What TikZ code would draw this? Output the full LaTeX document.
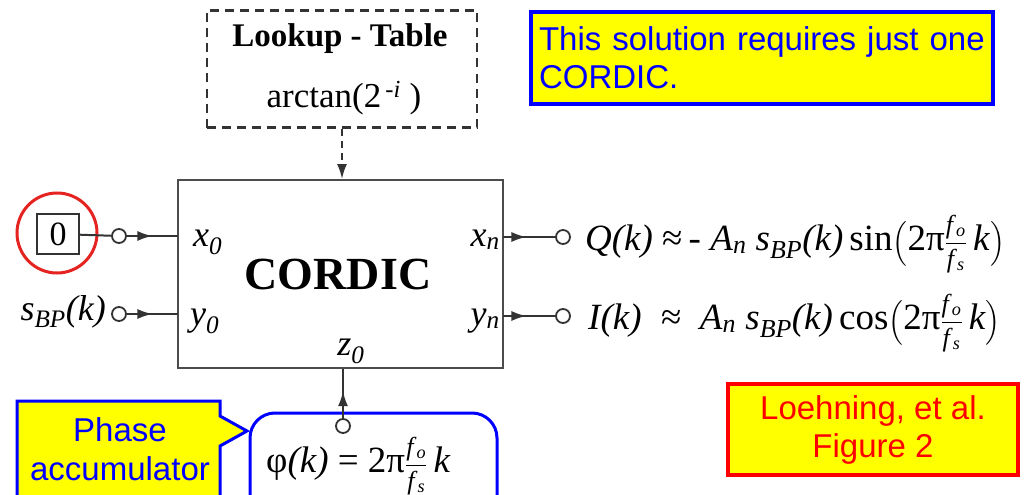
\documentclass[tikz,border=0pt]{standalone}
\usepackage{amsmath}
\usepackage{fontspec}
\setmainfont{Liberation Serif}
\newfontfamily\calloutfont{Liberation Sans}
\usepackage{xcolor}
\definecolor{noteYellow}{HTML}{FFFF00}
\definecolor{noteBlue}{HTML}{0000FF}
\definecolor{noteRed}{HTML}{FF0000}
\definecolor{ringRed}{HTML}{E52421}
\usetikzlibrary{positioning,arrows.meta,decorations.markings}
\newcommand{\sbp}{\textit{s}\textsubscript{\textit{BP}}}
\newcommand{\fofs}{$\dfrac{\text{\fontsize{26}{26}\selectfont\textit{f}\textsubscript{\textit{o}}}}{\text{\fontsize{26}{26}\selectfont\textit{f}\textsubscript{\textit{s}}}}$}
\tikzset{%
  cordicBlock/.style={
    rectangle, draw=black!70, line width=2pt, fill=white,
    minimum width=325pt, minimum height=188pt},
  lutBlock/.style={
    rectangle, draw=black!80, dash pattern=on 9pt off 6pt, line width=2.4pt,
    minimum width=270pt, minimum height=117pt},
  terminal/.style={circle, draw=black!80, fill=white, line width=1.8pt,
    minimum size=14pt, inner sep=0pt},
  portLabel/.style={font=\fontsize{36}{40}\selectfont, inner sep=0pt},
  eqText/.style={font=\fontsize{37}{40}\selectfont, inner sep=0pt, anchor=base west},
  noteBox/.style={rectangle, fill=noteYellow, line width=4pt, inner sep=0pt,
    font=\calloutfont\fontsize{33}{38}\selectfont},
  wire/.style={line width=2pt, black!80},
  tipHead/.tip={Latex[length=15pt,width=10pt]},
  midArrow/.style={postaction={decorate}, decoration={markings,
    mark=at position #1 with {\arrow{tipHead}}}},
  midArrow/.default=0.5,
}

\begin{document}
\begin{tikzpicture}[x=1pt,y=-1pt]
  \useasboundingbox (0,0) rectangle (1033,495);
  \fill[white] (0,0) rectangle (1033,495);
  \clip (0,0) rectangle (1033,495);

  % lookup table and CORDIC block
  \node[lutBlock] (lut) at (342,69) {};
  \node[anchor=base, font=\fontsize{33}{36}\selectfont\bfseries, inner sep=0pt] (luttitle) at (340,47) {Lookup - Table};
  \node[anchor=base, font=\fontsize{35}{36}\selectfont, inner sep=0pt] (lutfunc) at (344,107) {arctan(2\textsuperscript{\,-\textit{i}} )};
  \node[cordicBlock] (cordic) at (340.5,274) {};
  \node[font=\fontsize{46}{50}\selectfont\bfseries, inner sep=0pt] (cordictitle) at (338,274) {CORDIC};

  % port labels
  \node[portLabel, anchor=base west] (lx0) at (193,246) {\textit{x}\textsubscript{\textit{0}}};
  \node[portLabel, anchor=base west] (ly0) at (190,325) {\textit{y}\textsubscript{\textit{0}}};
  \node[portLabel, anchor=base east] (lxn) at (500,246) {\textit{x}\textsubscript{\textit{n}}};
  \node[portLabel, anchor=base east] (lyn) at (500,325) {\textit{y}\textsubscript{\textit{n}}};
  \node[portLabel, anchor=base] (lz0) at (351,355) {\textit{z}\textsubscript{\textit{0}}};
  \coordinate (px0) at (178,236);
  \coordinate (py0) at (178,314);
  \coordinate (pxn) at (503,237);
  \coordinate (pyn) at (503,316);

  % inputs
  \node[circle, draw=ringRed, line width=3pt, minimum size=80pt] (ring) at (57,233) {};
  \node[rectangle, draw=black!80, line width=1.8pt, minimum width=42pt, minimum height=40pt,
    inner sep=0pt, font=\fontsize{34}{36}\selectfont] (zero) at (58,234) {0};
  \node[terminal] (tx0) at (119,236) {};
  \node[terminal] (ty0) at (119,314) {};
  \node[portLabel, anchor=base east] (sbp) at (106,320) {\sbp\textit{(k)}};
  \draw[wire] (zero) -- (tx0);
  \draw[wire, midArrow] (tx0) -- (px0);
  \draw[wire, midArrow] (ty0) -- (py0);
  \draw[wire, dash pattern=on 7pt off 5pt, -tipHead] (lut.south) -- (lut.south |- cordic.north);

  % outputs
  \node[terminal] (txn) at (563,237) {};
  \node[terminal] (tyn) at (563,316) {};
  \draw[wire, midArrow=0.45] (pxn) -- (txn);
  \draw[wire, midArrow=0.45] (pyn) -- (tyn);
  \node[eqText] (qeq) at (585,250) {\textit{Q(k)} ≈\,- \textit{A}\textsubscript{\textit{n}} \sbp\textit{(k)}\,sin$\Bigl($2π\fofs\,\textit{k}$\Bigr)$};
  \node[eqText] (ieq) at (588,329) {\textit{I(k)}\; ≈ \ \textit{A}\textsubscript{\textit{n}} \sbp\textit{(k)}\,cos$\Bigl($2π\fofs\,\textit{k}$\Bigr)$};

  % phase accumulator
  \node[draw=noteBlue, line width=3pt, rounded corners=25pt, fill=white,
    minimum width=247pt, minimum height=110pt] (phibox) at (373.5,468) {};
  \node[eqText] (phieq) at (266,472) {φ\textit{(k)} = 2π\fofs\,\textit{k}};
  \node[terminal] (tz) at (343,426) {};
  \draw[wire, midArrow=0.55] (tz) -- (tz |- cordic.south);
  \draw[fill=noteYellow, draw=noteBlue, line width=3pt] (17,401) -- (220,401) -- (220,416)
    -- (247,431) -- (220,446) -- (220,520) -- (17,520) -- cycle;
  \node[align=center, inner sep=0pt, font=\calloutfont\fontsize{33}{39}\selectfont,
    text=noteBlue] (phasenote) at (120,449) {Phase\\accumulator};

  % notes
  \node[noteBox, draw=noteBlue, text=noteBlue, minimum width=462pt, minimum height=92pt,
    text width=446pt, align=left] (solnote) at (762,58) {This solution requires just one\\CORDIC.};
  \node[noteBox, draw=noteRed, text=noteRed, minimum width=290pt, minimum height=91pt,
    align=center] (refnote) at (873,429.5) {Loehning, et al.\\Figure 2};
\end{tikzpicture}
\end{document}
